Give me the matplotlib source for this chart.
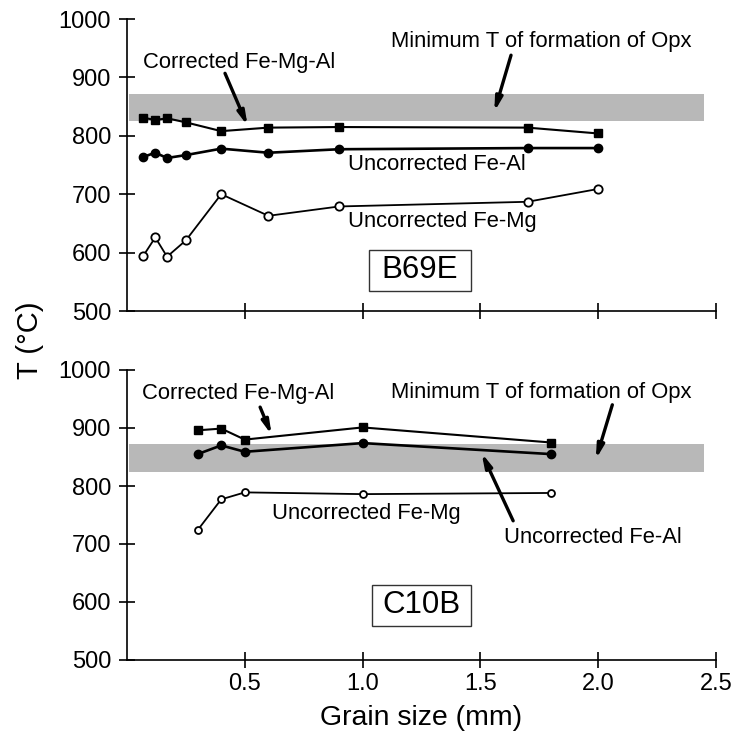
import matplotlib
matplotlib.use("Agg")
import matplotlib.pyplot as plt
from matplotlib.patches import Rectangle

plt.rcParams['font.family'] = ['Liberation Sans', 'DejaVu Sans']

# ---- data: sample B69E (top) ----
b69_x = [0.07, 0.12, 0.17, 0.25, 0.40, 0.60, 0.90, 1.70, 2.00]
b69_corr = [831, 827, 830, 823, 808, 814, 815, 814, 804]
b69_feal = [764, 771, 762, 767, 778, 771, 777, 779, 779]
b69_femg = [595, 626, 593, 621, 700, 663, 679, 687, 709]

# ---- data: sample C10B (bottom) ----
c10_x = [0.30, 0.40, 0.50, 1.00, 1.80]
c10_corr = [896, 899, 880, 901, 875]
c10_feal = [855, 870, 859, 874, 855]
c10_femg = [724, 777, 789, 786, 788]

opx_band = (825, 872)
band_xmax = 2.45

xticks = [0.5, 1.0, 1.5, 2.0, 2.5]
xticklabels = ["0.5", "1.0", "1.5", "2.0", "2.5"]
yticks = [500, 600, 700, 800, 900, 1000]

W, H = 732, 735
fig = plt.figure(figsize=(W / 100, H / 100), dpi=100)

ax1 = fig.add_axes([127 / W, 1 - 311 / H, 589 / W, 292 / H])
ax2 = fig.add_axes([127 / W, 1 - 660 / H, 589 / W, 290 / H])

TICKFS = 17
ANNFS = 15.8


def style(ax, labels):
    ax.set_xlim(0, 2.5)
    ax.set_ylim(500, 1000)
    for s in ['top', 'right']:
        ax.spines[s].set_visible(False)
    for s in ['left', 'bottom']:
        ax.spines[s].set_linewidth(1.2)
    ax.set_xticks(xticks)
    ax.set_xticklabels(xticklabels if labels else [])
    ax.set_yticks(yticks)
    ax.tick_params(direction='inout', length=11, width=1.2, labelsize=TICKFS, pad=6)
    ax.tick_params(axis='x', pad=4)
    ax.patch.set_alpha(0)


def draw(ax, x, corr, feal, femg, ms_open):
    ax.axhspan(opx_band[0], opx_band[1], xmin=0.004, xmax=band_xmax / 2.5,
               facecolor='#b8b8b8', edgecolor='none', zorder=1)
    ax.plot(x, corr, color='black', lw=1.5, marker='s', ms=6, mfc='black', zorder=3)
    ax.plot(x, feal, color='black', lw=1.9, marker='o', ms=6, mfc='black', zorder=3)
    ax.plot(x, femg, color='black', lw=1.3, marker='o', ms=ms_open, mfc='white',
            mew=1.3, zorder=3)


style(ax1, False)
style(ax2, True)
draw(ax1, b69_x, b69_corr, b69_feal, b69_femg, 6)
draw(ax2, c10_x, c10_corr, c10_feal, c10_femg, 5)

arrow = dict(arrowstyle='-|>,head_length=0.8,head_width=0.2', color='black', lw=2.4,
             shrinkA=0, shrinkB=0)

# top annotations
ax1.text(0.07, 925, "Corrected Fe-Mg-Al", fontsize=ANNFS, va='center', ha='left')
ax1.annotate("", xy=(0.512, 817), xytext=(0.416, 907), arrowprops=arrow)
ax1.text(1.76, 962, "Minimum T of formation of Opx", fontsize=ANNFS, va='center', ha='center')
ax1.annotate("", xy=(1.559, 841), xytext=(1.63, 938), arrowprops=arrow)
ax1.text(0.94, 750, "Uncorrected Fe-Al", fontsize=ANNFS, va='center', ha='left')
ax1.text(0.94, 653, "Uncorrected Fe-Mg", fontsize=ANNFS, va='center', ha='left')
ax1.add_patch(Rectangle((1.028, 535), 0.432, 70, facecolor='white', edgecolor='#333333',
                        lw=1.0, zorder=2))
ax1.text(1.244, 570, "B69E", fontsize=22.5, ha='center', va='center', zorder=4)

# bottom annotations
ax2.text(0.063, 959, "Corrected Fe-Mg-Al", fontsize=ANNFS, va='center', ha='left')
ax2.annotate("", xy=(0.614, 888), xytext=(0.565, 936), arrowprops=arrow)
ax2.text(1.76, 961, "Minimum T of formation of Opx", fontsize=ANNFS, va='center', ha='center')
ax2.annotate("", xy=(1.99, 846), xytext=(2.06, 940), arrowprops=arrow)
ax2.text(1.60, 712, "Uncorrected Fe-Al", fontsize=ANNFS, va='center', ha='left')
ax2.annotate("", xy=(1.505, 857), xytext=(1.639, 740), arrowprops=arrow)
ax2.text(1.015, 752, "Uncorrected Fe-Mg", fontsize=ANNFS, va='center', ha='center')
ax2.add_patch(Rectangle((1.04, 559), 0.42, 70, facecolor='white', edgecolor='#333333',
                        lw=1.0, zorder=2))
ax2.text(1.25, 594, "C10B", fontsize=22.5, ha='center', va='center', zorder=4)

fig.text(0.5 * (127 + 716) / W, 1 - 718 / H, "Grain size (mm)", fontsize=20.5,
         ha='center', va='center')
fig.text(30 / W, 1 - 340 / H, "T (°C)", rotation=90, fontsize=21, ha='center', va='center')

fig.savefig("out.png", dpi=100)
